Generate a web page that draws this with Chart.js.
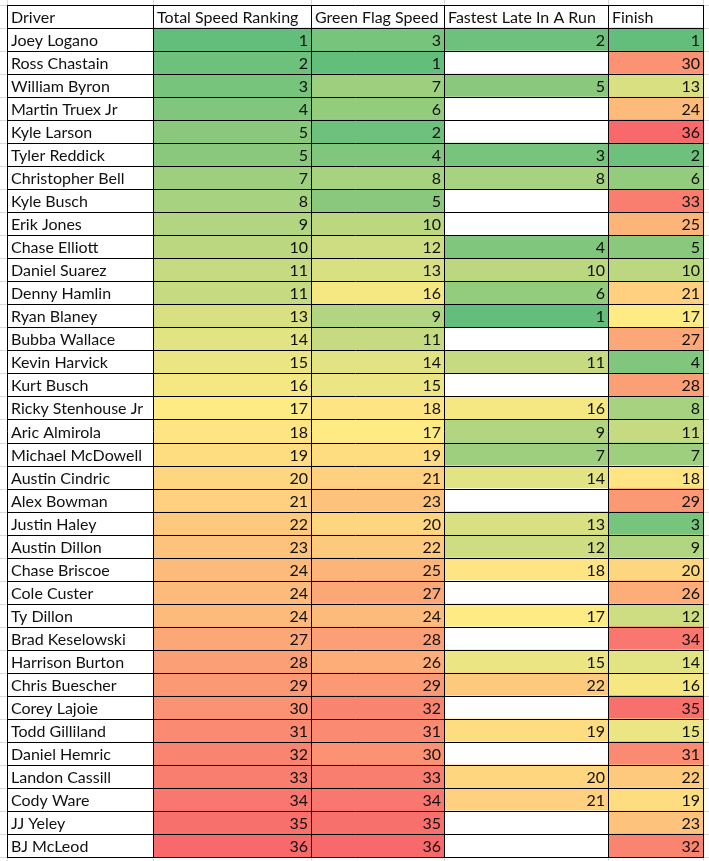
<!DOCTYPE html>
<html lang="en">
  <head>
    <meta charset="UTF-8" />
    <style>
      body {
        margin: 0;
        background-color: rgb(255, 255, 255);
      }
      canvas {
        display: block;
      }
    </style>
    <script src="https://cdn.jsdelivr.net/npm/chart.js"></script>
    <title>Speed Rankings</title>
  </head>

  <body>
    <canvas id="table" width="709" height="861"></canvas>

    <script>
      // header row + driver names
      const headers = ["Driver", "Total Speed Ranking", "Green Flag Speed", "Fastest Late In A Run", "Finish"];
      const drivers = [
        "Joey Logano", "Ross Chastain", "William Byron", "Martin Truex Jr", "Kyle Larson",
        "Tyler Reddick", "Christopher Bell", "Kyle Busch", "Erik Jones", "Chase Elliott",
        "Daniel Suarez", "Denny Hamlin", "Ryan Blaney", "Bubba Wallace", "Kevin Harvick",
        "Kurt Busch", "Ricky Stenhouse Jr", "Aric Almirola", "Michael McDowell", "Austin Cindric",
        "Alex Bowman", "Justin Haley", "Austin Dillon", "Chase Briscoe", "Cole Custer",
        "Ty Dillon", "Brad Keselowski", "Harrison Burton", "Chris Buescher", "Corey Lajoie",
        "Todd Gilliland", "Daniel Hemric", "Landon Cassill", "Cody Ware", "JJ Yeley", "BJ McLeod"
      ];
      const totalSpeed = [1, 2, 3, 4, 5, 5, 7, 8, 9, 10, 11, 11, 13, 14, 15, 16, 17, 18, 19, 20, 21, 22, 23, 24, 24, 24, 27, 28, 29, 30, 31, 32, 33, 34, 35, 36];
      const greenFlag = [3, 1, 7, 6, 2, 4, 8, 5, 10, 12, 13, 16, 9, 11, 14, 15, 18, 17, 19, 21, 23, 20, 22, 25, 27, 24, 28, 26, 29, 32, 31, 30, 33, 34, 35, 36];
      const fastestLate = [2, null, 5, null, null, 3, 8, null, null, 4, 10, 6, 1, null, 11, null, 16, 9, 7, 14, null, 13, 12, 18, null, 17, null, 15, 22, null, 19, null, 20, 21, null, null];
      const finish = [1, 30, 13, 24, 36, 2, 6, 33, 25, 5, 10, 21, 17, 27, 4, 28, 8, 11, 7, 18, 29, 3, 9, 20, 26, 12, 34, 14, 16, 35, 15, 31, 22, 19, 23, 32];

      // layout: column edges in canvas pixels
      const colEdges = [7, 153, 311, 444, 608, 703];

      const valueCols = [totalSpeed, greenFlag, fastestLate, finish];
      const rows = ["Driver"].concat(drivers);

      // excel 3 colour scale over the whole range (min / 50th percentile / max)
      const all = valueCols.flat().filter((v) => v != null).sort((a, b) => a - b);
      const vMin = all[0];
      const vMax = all[all.length - 1];
      const pos = (all.length - 1) * 0.5;
      const vMid = all[Math.floor(pos)] + (all[Math.ceil(pos)] - all[Math.floor(pos)]) * (pos - Math.floor(pos));
      const green = [99, 190, 123], yellow = [255, 235, 132], red = [248, 105, 107];

      function mix(a, b, t) {
        return "rgb(" + a.map((c, i) => Math.round(c + (b[i] - c) * t)).join(",") + ")";
      }
      function scaleColor(v) {
        if (v == null) return "#ffffff";
        if (v <= vMid) return mix(green, yellow, (v - vMin) / (vMid - vMin));
        return mix(yellow, red, (v - vMid) / (vMax - vMid));
      }

      const datasets = headers.map((h, c) => ({
        label: h,
        data: rows.map(() => [colEdges[c], colEdges[c + 1]]),
        backgroundColor: rows.map((r, i) => (c === 0 || i === 0 ? "#ffffff" : scaleColor(valueCols[c - 1][i - 1]))),
        borderWidth: 0,
        grouped: false,
        barPercentage: 1,
        categoryPercentage: 1,
      }));

      const FONT = "16px Lato";

      const tablePlugin = {
        id: "tablePlugin",
        beforeDatasetsDraw(chart) {
          // faint sheet gridlines around the table
          const ctx = chart.ctx;
          const y = chart.scales.y;
          const x = chart.scales.x;
          ctx.save();
          ctx.strokeStyle = "#d9d9d9";
          ctx.lineWidth = 1;
          ctx.beginPath();
          for (let i = 0; i <= rows.length; i++) {
            const py = Math.round(y.top + (y.height * i) / rows.length) + 0.5;
            ctx.moveTo(0, py);
            ctx.lineTo(chart.width, py);
          }
          colEdges.forEach((e) => {
            const px = Math.round(x.getPixelForValue(e)) + 0.5;
            ctx.moveTo(px, 0);
            ctx.lineTo(px, chart.height);
          });
          ctx.stroke();
          ctx.restore();
        },
        afterDatasetsDraw(chart) {
          const ctx = chart.ctx;
          const y = chart.scales.y;
          const x = chart.scales.x;
          ctx.save();
          // black cell borders
          ctx.strokeStyle = "#000000";
          ctx.lineWidth = 1;
          ctx.beginPath();
          for (let i = 0; i <= rows.length; i++) {
            const py = Math.round(y.top + (y.height * i) / rows.length) + 0.5;
            ctx.moveTo(x.getPixelForValue(colEdges[0]), py);
            ctx.lineTo(x.getPixelForValue(colEdges[colEdges.length - 1]) + 1, py);
          }
          colEdges.forEach((e) => {
            const px = Math.round(x.getPixelForValue(e)) + 0.5;
            ctx.moveTo(px, y.top);
            ctx.lineTo(px, y.bottom + 1);
          });
          ctx.stroke();

          // cell text
          ctx.font = FONT;
          ctx.fillStyle = "#111111";
          ctx.textBaseline = "alphabetic";
          const rowH = y.height / rows.length;
          chart.data.datasets.forEach((ds, c) => {
            const meta = chart.getDatasetMeta(c);
            meta.data.forEach((bar, i) => {
              const base = bar.base;
              const end = bar.x;
              const by = bar.y + rowH / 2 - 5;
              if (i === 0) {
                ctx.textAlign = "left";
                ctx.fillText(headers[c], base + 4, by);
              } else if (c === 0) {
                ctx.textAlign = "left";
                ctx.fillText(rows[i], base + 4, by);
              } else {
                const v = valueCols[c - 1][i - 1];
                if (v != null) {
                  ctx.textAlign = "right";
                  ctx.fillText(String(v), end - 3, by);
                }
              }
            });
          });
          ctx.restore();
        },
      };

      new Chart(document.getElementById("table"), {
        type: "bar",
        data: { labels: rows, datasets: datasets },
        options: {
          indexAxis: "y",
          responsive: false,
          animation: false,
          layout: { padding: { top: 5, left: 7, right: 6, bottom: 4 } },
          plugins: { legend: { display: false }, tooltip: { enabled: false } },
          scales: {
            x: { type: "linear", min: colEdges[0], max: colEdges[colEdges.length - 1], display: false },
            y: { type: "category", display: false },
          },
        },
        plugins: [tablePlugin],
      });
    </script>
  </body>
</html>
